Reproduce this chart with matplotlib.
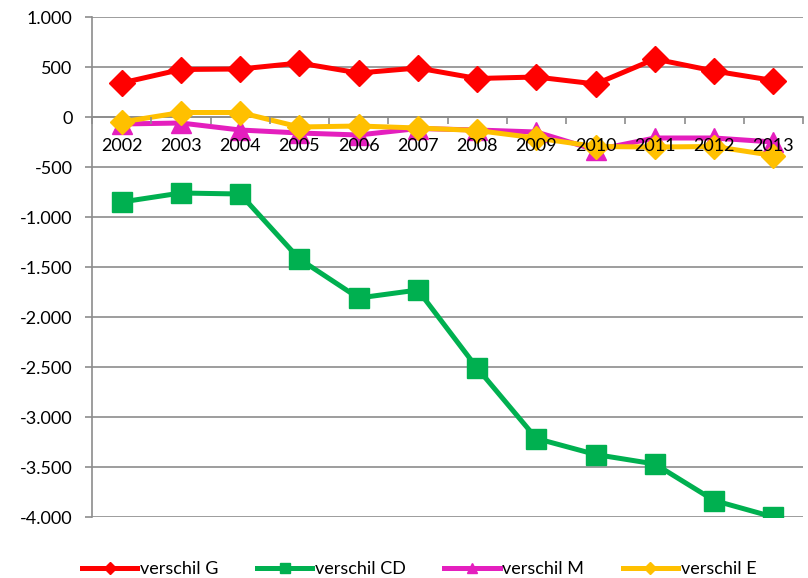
import matplotlib.pyplot as plt
from matplotlib.ticker import FuncFormatter, FixedLocator

# jaren en verschillen per categorie
years = ['2002', '2003', '2004', '2005', '2006', '2007',
         '2008', '2009', '2010', '2011', '2012', '2013']
verschil_g = [340, 475, 480, 540, 440, 490, 385, 400, 330, 580, 460, 365]
verschil_cd = [-850, -760, -770, -1420, -1810, -1730,
               -2510, -3215, -3375, -3470, -3835, -4000]
verschil_m = [-70, -60, -130, -160, -180, -115, -130, -150, -330, -210, -210, -250]
verschil_e = [-50, 45, 45, -100, -90, -110, -135, -210, -295, -300, -295, -385]

plt.rcParams['font.family'] = ['Lato', 'DejaVu Sans']

fig = plt.figure(figsize=(8.08, 5.78), dpi=100)
ax = fig.add_axes([92 / 808, 1 - 517 / 578, 711 / 808, 500 / 578])

x = range(len(years))
lw = 3.6
ax.plot(x, verschil_g, color='#FF0000', lw=lw, marker='D', ms=13, label='verschil G', zorder=3)
ax.plot(x, verschil_cd, color='#00B050', lw=lw, marker='s', ms=14, label='verschil CD', zorder=3)
ax.plot(x, verschil_m, color='#E41FBE', lw=lw, marker='^', ms=14, label='verschil M', zorder=3)
ax.plot(x, verschil_e, color='#FFC000', lw=lw, marker='D', ms=12, label='verschil E', zorder=3)

grid_c = '#8C8C8C'
ax.set_ylim(-4000, 1000)
ax.set_xlim(-0.5, len(years) - 0.5)
ax.set_yticks(range(-4000, 1001, 500))
ax.yaxis.set_major_formatter(FuncFormatter(lambda v, p: f'{int(v):,}'.replace(',', '.')))
ax.grid(axis='y', color=grid_c, lw=1.2)
ax.set_axisbelow(True)

# x-as op de nullijn, streepjes tussen de jaren
ax.spines['bottom'].set_position(('data', 0))
ax.spines['bottom'].set_color(grid_c)
ax.spines['bottom'].set_linewidth(1.2)
ax.spines['bottom'].set_zorder(1)
ax.spines['left'].set_color(grid_c)
ax.spines['left'].set_linewidth(1.2)
ax.spines['top'].set_visible(False)
ax.spines['right'].set_visible(False)

ax.set_xticks(list(x))
ax.set_xticklabels(years)
ax.xaxis.set_minor_locator(FixedLocator([i - 0.5 for i in range(len(years) + 1)]))
ax.tick_params(axis='x', which='major', length=0, pad=15, labelsize=13)
ax.tick_params(axis='x', which='minor', length=5, width=1.2, color=grid_c, direction='out')
ax.tick_params(axis='y', length=5, width=1.2, color=grid_c, pad=9, labelsize=13)
# jaartallen boven de lijnen tekenen
ax.xaxis.set_zorder(5)

fig.legend(loc='center left', bbox_to_anchor=(82 / 808, 1 - 569 / 578), ncol=4,
           frameon=False, fontsize=13, handlelength=3.05, handletextpad=0.15,
           columnspacing=2.15, borderpad=0, borderaxespad=0, markerscale=0.5)

plt.savefig('out.png', dpi=100)
